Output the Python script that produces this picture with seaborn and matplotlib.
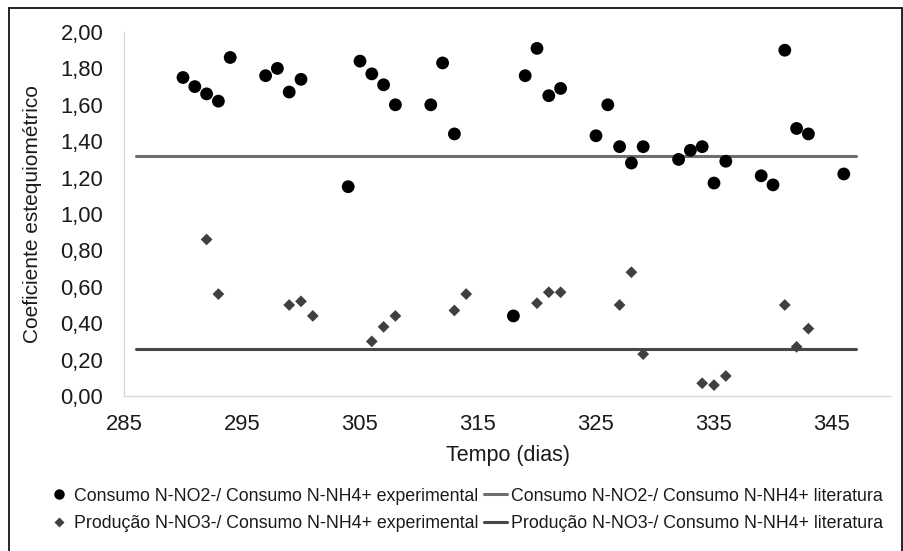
import matplotlib
matplotlib.use("Agg")
import matplotlib.pyplot as plt
import seaborn as sns
import pandas as pd
from matplotlib.lines import Line2D

sns.set_theme(style="white")
plt.rcParams['font.family'] = ['Liberation Sans', 'DejaVu Sans']

# Consumo N-NO2- / Consumo N-NH4+ experimental
dias_no2 = [290, 291, 292, 293, 294, 297, 298, 299, 300, 304, 305, 306, 307, 308,
            311, 312, 313, 318, 319, 320, 321, 322, 325, 326, 327, 328, 329,
            332, 333, 334, 335, 336, 339, 340, 341, 342, 343, 346]
coef_no2 = [1.75, 1.70, 1.66, 1.62, 1.86, 1.76, 1.80, 1.67, 1.74, 1.15, 1.84, 1.77, 1.71, 1.60,
            1.60, 1.83, 1.44, 0.44, 1.76, 1.91, 1.65, 1.69, 1.43, 1.60, 1.37, 1.28, 1.37,
            1.30, 1.35, 1.37, 1.17, 1.29, 1.21, 1.16, 1.90, 1.47, 1.44, 1.22]

# Produção N-NO3- / Consumo N-NH4+ experimental
dias_no3 = [292, 293, 299, 300, 301, 306, 307, 308, 313, 314, 320, 321, 322,
            327, 328, 329, 334, 335, 336, 341, 342, 343]
coef_no3 = [0.86, 0.56, 0.50, 0.52, 0.44, 0.30, 0.38, 0.44, 0.47, 0.56, 0.51, 0.57, 0.57,
            0.50, 0.68, 0.23, 0.07, 0.06, 0.11, 0.50, 0.27, 0.37]

# literature values
dias_lit = [286, 347]
lit_no2 = [1.32, 1.32]
lit_no3 = [0.26, 0.26]

x_ticks = [285, 295, 305, 315, 325, 335, 345]
y_ticks = [0.0, 0.2, 0.4, 0.6, 0.8, 1.0, 1.2, 1.4, 1.6, 1.8, 2.0]

lab_no2_exp = "Consumo N-NO2-/ Consumo N-NH4+ experimental"
lab_no2_lit = "Consumo N-NO2-/ Consumo N-NH4+ literatura"
lab_no3_exp = "Produção N-NO3-/ Consumo N-NH4+ experimental"
lab_no3_lit = "Produção N-NO3-/ Consumo N-NH4+ literatura"

df_no2 = pd.DataFrame({"dia": dias_no2, "coef": coef_no2})
df_no3 = pd.DataFrame({"dia": dias_no3, "coef": coef_no3})
df_l2 = pd.DataFrame({"dia": dias_lit, "coef": lit_no2})
df_l3 = pd.DataFrame({"dia": dias_lit, "coef": lit_no3})

fig = plt.figure(figsize=(9.04, 5.51), dpi=100)
ax = fig.add_axes([124/904, 1-396/551, (891-124)/904, (396-32)/551])

c_line2 = "#6e6e6e"
c_line3 = "#474747"
sns.lineplot(data=df_l2, x="dia", y="coef", ax=ax, color=c_line2, lw=2.2, zorder=2)
sns.lineplot(data=df_l3, x="dia", y="coef", ax=ax, color=c_line3, lw=2.2, zorder=2)
sns.scatterplot(data=df_no2, x="dia", y="coef", ax=ax, marker="o", s=85,
                color="black", edgecolor="none", zorder=3)
sns.scatterplot(data=df_no3, x="dia", y="coef", ax=ax, marker="D", s=36,
                color="#404040", edgecolor="none", zorder=3)

ax.set_xlim(285, 350)
ax.set_ylim(0, 2.0)
ax.set_xticks(x_ticks)
ax.set_xticklabels([str(v) for v in x_ticks])
ax.set_yticks(y_ticks)
ax.set_yticklabels([f"{v:.2f}".replace(".", ",") for v in y_ticks])
ax.tick_params(axis="both", length=0, labelsize=15.8, colors="#1a1a1a")
ax.tick_params(axis="y", pad=15)
ax.tick_params(axis="x", pad=13)
for side in ["top", "right"]:
    ax.spines[side].set_visible(False)
for side in ["left", "bottom"]:
    ax.spines[side].set_color("#d9d9d9")
    ax.spines[side].set_linewidth(1.0)
ax.set_xlabel("")
ax.set_ylabel("")
fig.text(33/904, 1-214/551, "Coeficiente estequiométrico", rotation=90,
         ha="center", va="center", fontsize=15, color="#1a1a1a")
fig.text(508/904, 1-455/551, "Tempo (dias)", ha="center", va="center",
         fontsize=15.5, color="#1a1a1a")

handles = [
    Line2D([], [], ls="none", marker="o", ms=7.5, color="black", mec="none"),
    Line2D([], [], ls="none", marker="D", ms=5, color="#404040", mec="none"),
    Line2D([], [], color=c_line2, lw=2.2),
    Line2D([], [], color=c_line3, lw=2.2),
]
labels = [lab_no2_exp, lab_no3_exp, lab_no2_lit, lab_no3_lit]
fig.legend(handles, labels, ncol=2, loc="center", bbox_to_anchor=(465/904, 1-510/551),
           frameon=False, fontsize=12.8, handlelength=1.3, handletextpad=0.2,
           columnspacing=0.35, labelspacing=0.6, labelcolor="#1a1a1a")

# chart frame
fig.add_artist(Line2D([9/904, 9/904], [0, 1-8/551], transform=fig.transFigure,
                      color="black", lw=1.2))
fig.add_artist(Line2D([9/904, 902/904], [1-8/551, 1-8/551], transform=fig.transFigure,
                      color="black", lw=1.2))
fig.add_artist(Line2D([902/904, 902/904], [0, 1-8/551], transform=fig.transFigure,
                      color="black", lw=1.2))

fig.savefig("out.png", dpi=100)
